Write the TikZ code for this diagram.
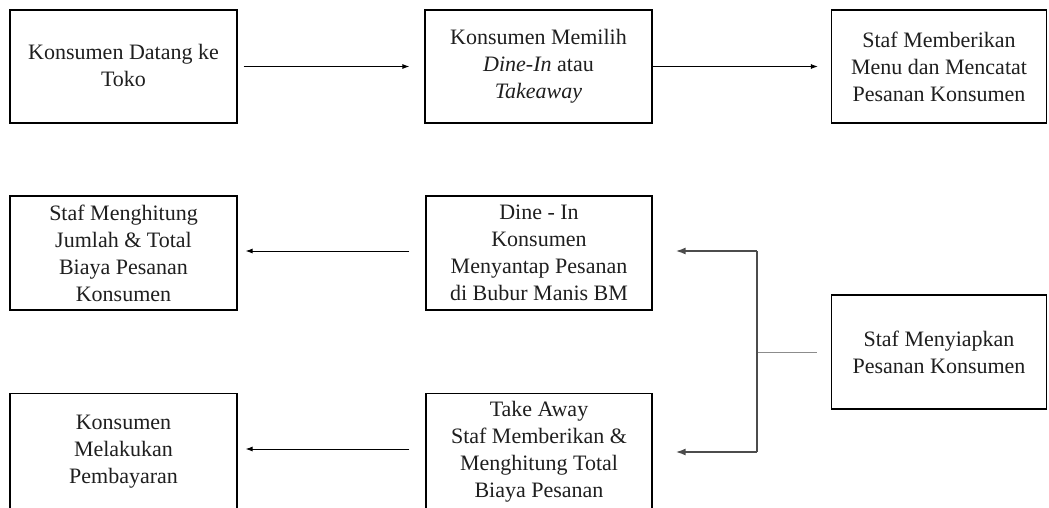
\documentclass[tikz,border=0pt]{standalone}
\usepackage{fontspec}
\setmainfont{Liberation Serif}
\usetikzlibrary{arrows.meta}
\begin{document}
\begin{tikzpicture}[x=1pt,y=-1pt,
  box/.style={draw=black,line width=1.2pt,minimum height=113pt,inner sep=0pt,align=center,
    font=\fontsize{22}{27}\selectfont,text=black!88},
  thin/.style={draw=black,line width=0.9pt,-{Latex[length=7pt,width=5pt]}},
  thick/.style={draw=black!70,line width=1.8pt,-{Latex[length=10pt,width=7pt]}}]
\clip (0,0) rectangle (1049,507);
\fill[white] (0,0) rectangle (1049,507);
\node[box,minimum width=227pt] (b1) at (123.5,66.5) {\raisebox{-4pt}[0pt][0pt]{\parbox{200pt}{\centering Konsumen Datang ke\\Toko}}};
\node[box,minimum width=227pt] (b2) at (538.5,66.5) {Konsumen Memilih\\\textit{Dine-In} atau\\\textit{Takeaway}};
\node[box,minimum width=215pt] (b3) at (939,66.5) {Staf Memberikan\\Menu dan Mencatat\\Pesanan Konsumen};
\node[box,minimum width=227pt,minimum height=114pt] (b4) at (123.5,253) {Staf Menghitung\\Jumlah \& Total\\Biaya Pesanan\\Konsumen};
\node[box,minimum width=226pt,minimum height=114pt] (b5) at (539,253) {Dine - In\\Konsumen\\Menyantap Pesanan\\di Bubur Manis BM};
\node[box,minimum width=215pt,minimum height=114pt] (b6) at (939,352) {Staf Menyiapkan\\Pesanan Konsumen};
\node[box,minimum width=227pt,minimum height=116pt] (b7) at (123.5,451.5) {Konsumen\\Melakukan\\Pembayaran};
\node[box,minimum width=226pt,minimum height=116pt] (b8) at (539,451.5) {Take Away\\Staf Memberikan \&\\Menghitung Total\\Biaya Pesanan};
\coordinate (j) at (757,352);
\coordinate (jt) at (757,251);
\coordinate (jb) at (757,452);
\draw[thin,shorten <=6pt,shorten >=15pt] (b1.east) -- (b2.west);
\draw[thin,shorten >=13pt] (b2.east) -- (b3.west);
\draw[thin,shorten <=16pt,shorten >=8pt] (b5.west |- 0,251) -- (b4.east |- 0,251);
\draw[thin,shorten <=16pt,shorten >=8pt] (b8.west |- 0,449) -- (b7.east |- 0,449);
\draw[draw=black!45,line width=1pt,shorten <=14pt] (b6.west) -- (j);
\draw[draw=black!70,line width=1.8pt] (jt) -- (jb);
\draw[thick,shorten >=23pt] (jt) -- (b5.east |- jt);
\draw[thick,shorten >=23pt] (jb) -- (b8.east |- jb);
\end{tikzpicture}
\end{document}
